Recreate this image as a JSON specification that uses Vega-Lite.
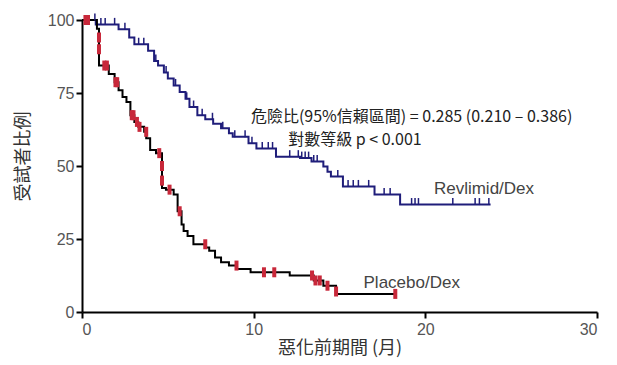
{
  "$schema": "https://vega.github.io/schema/vega-lite/v6.json",
  "width": 515,
  "height": 292,
  "autosize": {"type": "none"},
  "padding": {"left": 82, "top": 20, "right": 20, "bottom": 53},
  "background": "white",
  "config": {
    "view": {"stroke": null},
    "axis": {
      "grid": false,
      "labelFont": "Liberation Sans",
      "labelFontSize": 16,
      "labelColor": "#555555",
      "domainColor": "#000000",
      "domainWidth": 2,
      "tickColor": "#000000",
      "tickWidth": 2,
      "tickSize": 6,
      "titleFont": "Noto Sans CJK TC",
      "titleFontSize": 18,
      "titleFontWeight": "normal",
      "titleColor": "#333333"
    }
  },
  "datasets": {
    "curves": [
      {"group": "Revlimid/Dex", "t": 0, "s": 100},
      {"group": "Revlimid/Dex", "t": 0.8, "s": 98.5},
      {"group": "Revlimid/Dex", "t": 2.13, "s": 96.8},
      {"group": "Revlimid/Dex", "t": 2.75, "s": 94},
      {"group": "Revlimid/Dex", "t": 3.05, "s": 91.7},
      {"group": "Revlimid/Dex", "t": 3.85, "s": 89.5},
      {"group": "Revlimid/Dex", "t": 4.2, "s": 86},
      {"group": "Revlimid/Dex", "t": 4.43, "s": 84.4},
      {"group": "Revlimid/Dex", "t": 4.77, "s": 82},
      {"group": "Revlimid/Dex", "t": 5.0, "s": 80},
      {"group": "Revlimid/Dex", "t": 5.34, "s": 77.6},
      {"group": "Revlimid/Dex", "t": 5.69, "s": 75.3},
      {"group": "Revlimid/Dex", "t": 6.03, "s": 73},
      {"group": "Revlimid/Dex", "t": 6.26, "s": 70.2},
      {"group": "Revlimid/Dex", "t": 6.72, "s": 67.4},
      {"group": "Revlimid/Dex", "t": 7.18, "s": 66},
      {"group": "Revlimid/Dex", "t": 7.64, "s": 64.5},
      {"group": "Revlimid/Dex", "t": 8.1, "s": 62.9},
      {"group": "Revlimid/Dex", "t": 8.56, "s": 61.2},
      {"group": "Revlimid/Dex", "t": 8.78, "s": 60},
      {"group": "Revlimid/Dex", "t": 9.7, "s": 57.8},
      {"group": "Revlimid/Dex", "t": 10.16, "s": 56},
      {"group": "Revlimid/Dex", "t": 11.3, "s": 53.2},
      {"group": "Revlimid/Dex", "t": 12.7, "s": 52.7},
      {"group": "Revlimid/Dex", "t": 13.37, "s": 51.5},
      {"group": "Revlimid/Dex", "t": 14.06, "s": 49.8},
      {"group": "Revlimid/Dex", "t": 14.3, "s": 48},
      {"group": "Revlimid/Dex", "t": 14.5, "s": 46.4},
      {"group": "Revlimid/Dex", "t": 15.2, "s": 43},
      {"group": "Revlimid/Dex", "t": 17.04, "s": 40.2},
      {"group": "Revlimid/Dex", "t": 18.53, "s": 36.8},
      {"group": "Revlimid/Dex", "t": 23.8, "s": 36.8},
      {"group": "Placebo/Dex", "t": 0, "s": 100},
      {"group": "Placebo/Dex", "t": 0.87, "s": 97},
      {"group": "Placebo/Dex", "t": 0.99, "s": 84.4},
      {"group": "Placebo/Dex", "t": 1.56, "s": 81.5},
      {"group": "Placebo/Dex", "t": 1.9, "s": 78.7},
      {"group": "Placebo/Dex", "t": 2.13, "s": 75.9},
      {"group": "Placebo/Dex", "t": 2.36, "s": 73.6},
      {"group": "Placebo/Dex", "t": 2.59, "s": 71.9},
      {"group": "Placebo/Dex", "t": 2.82, "s": 67.4},
      {"group": "Placebo/Dex", "t": 3.05, "s": 65.1},
      {"group": "Placebo/Dex", "t": 3.28, "s": 63.4},
      {"group": "Placebo/Dex", "t": 3.62, "s": 61.7},
      {"group": "Placebo/Dex", "t": 3.74, "s": 59.5},
      {"group": "Placebo/Dex", "t": 3.97, "s": 55.5},
      {"group": "Placebo/Dex", "t": 4.31, "s": 54.4},
      {"group": "Placebo/Dex", "t": 4.66, "s": 42.5},
      {"group": "Placebo/Dex", "t": 4.89, "s": 41.9},
      {"group": "Placebo/Dex", "t": 5.34, "s": 40.2},
      {"group": "Placebo/Dex", "t": 5.57, "s": 34.5},
      {"group": "Placebo/Dex", "t": 5.8, "s": 30},
      {"group": "Placebo/Dex", "t": 5.92, "s": 27.7},
      {"group": "Placebo/Dex", "t": 6.15, "s": 26},
      {"group": "Placebo/Dex", "t": 6.49, "s": 23.2},
      {"group": "Placebo/Dex", "t": 7.18, "s": 22.1},
      {"group": "Placebo/Dex", "t": 7.41, "s": 21},
      {"group": "Placebo/Dex", "t": 7.75, "s": 18.7},
      {"group": "Placebo/Dex", "t": 8.1, "s": 17},
      {"group": "Placebo/Dex", "t": 8.56, "s": 15.9},
      {"group": "Placebo/Dex", "t": 9.01, "s": 14.7},
      {"group": "Placebo/Dex", "t": 9.82, "s": 13.6},
      {"group": "Placebo/Dex", "t": 12.1, "s": 12.5},
      {"group": "Placebo/Dex", "t": 13.5, "s": 10.8},
      {"group": "Placebo/Dex", "t": 14.06, "s": 9},
      {"group": "Placebo/Dex", "t": 14.8, "s": 6.2},
      {"group": "Placebo/Dex", "t": 18.25, "s": 6.2}
    ],
    "censorR": [
      {"t": 0.75, "s": 100}, {"t": 1.1, "s": 98.5}, {"t": 1.35, "s": 98.5}, {"t": 1.9, "s": 98.5},
      {"t": 2.5, "s": 96.8}, {"t": 3.3, "s": 91.7}, {"t": 3.6, "s": 91.7}, {"t": 4.3, "s": 86},
      {"t": 4.9, "s": 82}, {"t": 5.45, "s": 77.6}, {"t": 6.1, "s": 73}, {"t": 6.5, "s": 70.2},
      {"t": 7.0, "s": 67.4}, {"t": 7.6, "s": 66}, {"t": 8.2, "s": 62.9}, {"t": 8.9, "s": 60},
      {"t": 9.5, "s": 60}, {"t": 9.9, "s": 57.8}, {"t": 10.5, "s": 56}, {"t": 10.85, "s": 56},
      {"t": 11.1, "s": 56}, {"t": 12.1, "s": 53.2}, {"t": 12.6, "s": 53.2}, {"t": 12.8, "s": 52.7},
      {"t": 13.0, "s": 52.7}, {"t": 13.2, "s": 52.7}, {"t": 13.5, "s": 51.5}, {"t": 13.7, "s": 51.5},
      {"t": 14.9, "s": 46.4}, {"t": 15.5, "s": 43}, {"t": 15.8, "s": 43}, {"t": 16.1, "s": 43},
      {"t": 16.7, "s": 43}, {"t": 17.6, "s": 40.2}, {"t": 17.95, "s": 40.2}, {"t": 19.2, "s": 36.8},
      {"t": 19.4, "s": 36.8}, {"t": 19.6, "s": 36.8}, {"t": 21.6, "s": 36.8}, {"t": 22.9, "s": 36.8},
      {"t": 23.15, "s": 36.8}, {"t": 23.7, "s": 36.8}
    ],
    "censorP": [
      {"t": 0.2, "s": 100}, {"t": 0.35, "s": 100}, {"t": 0.99, "s": 94}, {"t": 0.99, "s": 90},
      {"t": 1.3, "s": 84.4}, {"t": 1.45, "s": 84.4}, {"t": 1.95, "s": 78.7}, {"t": 2.05, "s": 78.7},
      {"t": 2.9, "s": 67.4}, {"t": 3.0, "s": 67.4}, {"t": 3.2, "s": 65.1}, {"t": 3.35, "s": 63.4},
      {"t": 3.74, "s": 61.7}, {"t": 4.5, "s": 54.4}, {"t": 4.66, "s": 50}, {"t": 4.66, "s": 45},
      {"t": 5.1, "s": 41.9}, {"t": 5.69, "s": 34.5}, {"t": 7.18, "s": 23.2}, {"t": 9.0, "s": 15.9},
      {"t": 10.6, "s": 13.6}, {"t": 11.2, "s": 13.6}, {"t": 13.4, "s": 12.5}, {"t": 13.6, "s": 10.8},
      {"t": 13.85, "s": 10.8}, {"t": 14.3, "s": 9}, {"t": 14.8, "s": 7}, {"t": 18.25, "s": 6.2}
    ],
    "labels": [
      {"t": 19.2, "s": 66.8, "txt": "危險比(95%信賴區間) = 0.285 (0.210 – 0.386)"},
      {"t": 15.9, "s": 59.0, "txt": "對數等級 p < 0.001"}
    ],
    "names": [
      {"t": 20.5, "s": 42.0, "txt": "Revlimid/Dex"},
      {"t": 16.4, "s": 9.9, "txt": "Placebo/Dex"}
    ]
  },
  "encoding": {
    "x": {
      "field": "t", "type": "quantitative",
      "scale": {"domain": [0, 30], "nice": false},
      "axis": {"values": [0, 10, 20, 30], "title": "惡化前期間 (月)", "titlePadding": 2, "labelPadding": 3}
    },
    "y": {
      "field": "s", "type": "quantitative",
      "scale": {"domain": [0, 100], "nice": false},
      "axis": {"values": [0, 25, 50, 75, 100], "title": "受試者比例", "titleX": -59, "titleY": 136, "titleAngle": -90, "titleBaseline": "middle", "titleAlign": "center", "labelPadding": 2}
    }
  },
  "layer": [
    {
      "data": {"name": "curves"},
      "mark": {"type": "line", "interpolate": "step-after", "strokeWidth": 2},
      "encoding": {
        "detail": {"field": "group"},
        "color": {
          "field": "group", "type": "nominal",
          "scale": {"domain": ["Revlimid/Dex", "Placebo/Dex"], "range": ["#1f1d7a", "#000000"]},
          "legend": null
        }
      }
    },
    {
      "data": {"name": "censorR"},
      "mark": {"type": "tick", "orient": "vertical", "size": 7, "thickness": 1.5, "color": "#1f1d7a", "opacity": 1, "yOffset": -3}
    },
    {
      "data": {"name": "censorP"},
      "mark": {"type": "tick", "orient": "vertical", "size": 10, "thickness": 4, "color": "#c8283a", "opacity": 1}
    },
    {
      "data": {"name": "labels"},
      "mark": {"type": "text", "font": "Noto Sans CJK TC", "fontSize": 16, "color": "#222222", "align": "center", "baseline": "middle"},
      "encoding": {"text": {"field": "txt"}}
    },
    {
      "data": {"name": "names"},
      "mark": {"type": "text", "font": "Liberation Sans", "fontSize": 17, "color": "#444444", "align": "left", "baseline": "middle"},
      "encoding": {"text": {"field": "txt"}}
    }
  ]
}
